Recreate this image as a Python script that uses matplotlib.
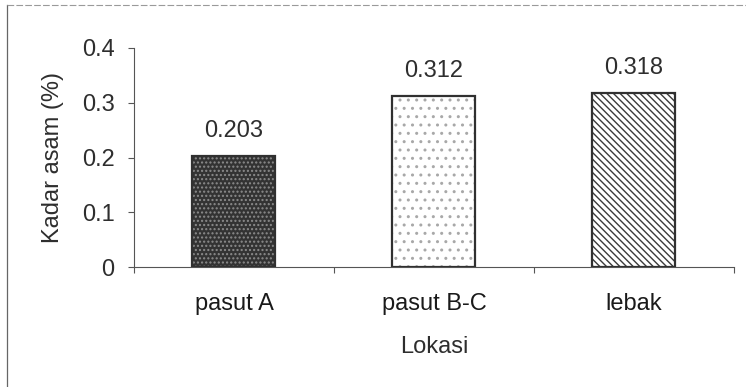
import matplotlib
matplotlib.use("Agg")
import matplotlib.pyplot as plt
from matplotlib.lines import Line2D

# Kadar asam per lokasi
categories = ["pasut A", "pasut B-C", "lebak"]
values = [0.203, 0.312, 0.318]
value_labels = ["0.203", "0.312", "0.318"]
yticks = [0, 0.1, 0.2, 0.3, 0.4]
ytick_labels = ["0", "0.1", "0.2", "0.3", "0.4"]

plt.rcParams["font.family"] = ["Liberation Sans", "DejaVu Sans"]
plt.rcParams["hatch.linewidth"] = 1.0

text_color = "#2e2e2e"
axis_color = "#555555"
fs = 17

fig = plt.figure(figsize=(7.46, 3.87), dpi=100)
ax = fig.add_axes([0.1796, 0.310, 0.8043, 0.566])

x = list(range(len(categories)))
styles = [
    dict(facecolor="#333333", hatch="....", hatchcolor="#8c8c8c"),
    dict(facecolor="white", hatch="..", hatchcolor="#a8a8a8"),
    dict(facecolor="white", hatch="\\\\\\\\\\", hatchcolor="#3a3a3a"),
]
width = 0.415
for xi, v, st in zip(x, values, styles):
    # fill + pattern
    ax.bar(xi, v, width=width, color=st["facecolor"], hatch=st["hatch"],
           edgecolor=st["hatchcolor"], linewidth=0, zorder=2)
    # outline
    ax.bar(xi, v, width=width, fill=False, edgecolor="#303030",
           linewidth=1.6, zorder=3)

for xi, v, lab in zip(x, values, value_labels):
    ax.annotate(lab, (xi, v), xytext=(0, 10), textcoords="offset points",
                ha="center", va="bottom", fontsize=fs, color=text_color)

ax.set_xlim(-0.5, len(categories) - 0.5)
ax.set_ylim(0, 0.4)
ax.set_yticks(yticks)
ax.set_yticklabels(ytick_labels)
ax.set_xticks([i - 0.5 for i in range(len(categories) + 1)])
ax.set_xticklabels([])
ax.set_xticks(x, minor=True)
ax.set_xticklabels(categories, minor=True)
ax.tick_params(axis="x", which="minor", length=0, pad=19, labelsize=fs,
               labelcolor="#1a1a1a")
ax.tick_params(axis="x", which="major", direction="out", length=4,
               color=axis_color, width=0.8)
ax.tick_params(axis="y", direction="out", length=4, color=axis_color,
               width=0.8, labelsize=fs, labelcolor=text_color, pad=10)

for side in ["top", "right"]:
    ax.spines[side].set_visible(False)
for side in ["left", "bottom"]:
    ax.spines[side].set_color(axis_color)
    ax.spines[side].set_linewidth(0.8)

ax.set_xlabel("Lokasi", fontsize=fs, color=text_color, labelpad=15)
ax.set_ylabel("Kadar asam (%)", fontsize=fs, color=text_color, labelpad=13)

# page frame
fig.add_artist(Line2D([7 / 746, 7 / 746], [0, 1 - 5 / 387],
                      transform=fig.transFigure, color="#666666", lw=0.9))
fig.add_artist(Line2D([7 / 746, 1], [1 - 5 / 387, 1 - 5 / 387],
                      transform=fig.transFigure, color="#9a9a9a", lw=0.8,
                      linestyle=(0, (6, 2))))

fig.savefig("out.png", dpi=100, facecolor="white")
